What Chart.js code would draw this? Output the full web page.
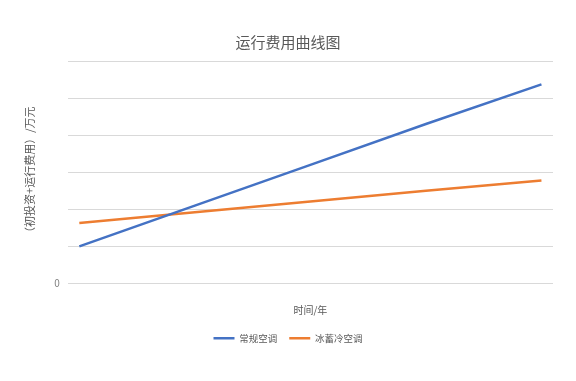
<!DOCTYPE html>
<html>
<head>
<meta charset="utf-8">
<script src="https://cdn.jsdelivr.net/npm/chart.js@4"></script>
<style>
  html, body { margin: 0; padding: 0; background: #fff; }
  #wrap { width: 576px; height: 381px; }
</style>
</head>
<body>
<div id="wrap"><canvas id="costChart" width="576" height="381"></canvas></div>
<script>
// 数据
const years = [0, 5, 10, 15, 20];
const conventional = [1.0, 2.1, 3.2, 4.3, 5.37];
const iceStorage = [1.63, 1.92, 2.21, 2.5, 2.78];
const yTicks = [0, 1, 2, 3, 4, 5, 6];

const textColor = "#595959";
const gridColor = "#d9d9d9";
Chart.defaults.font.family = "'Noto Sans CJK SC', 'Noto Sans', sans-serif";
Chart.defaults.color = textColor;

function toPoints(values) {
  return values.map((v, i) => ({ x: years[i], y: v }));
}

const ctx = document.getElementById("costChart").getContext("2d");
new Chart(ctx, {
  type: "line",
  data: {
    datasets: [
      {
        label: "常规空调",
        data: toPoints(conventional),
        borderColor: "#4472C4",
        backgroundColor: "#4472C4",
        borderWidth: 2.5,
        pointRadius: 0,
        tension: 0,
        fill: false,
      },
      {
        label: "冰蓄冷空调",
        data: toPoints(iceStorage),
        borderColor: "#ED7D31",
        backgroundColor: "#ED7D31",
        borderWidth: 2.5,
        pointRadius: 0,
        tension: 0,
        fill: false,
      },
    ],
  },
  options: {
    responsive: false,
    animation: false,
    layout: { padding: { top: 25, right: 23, bottom: 28, left: 23 } },
    plugins: {
      title: {
        display: true,
        text: "运行费用曲线图",
        font: { size: 15, weight: "normal" },
        color: textColor,
        padding: { top: 8, bottom: 10 },
      },
      legend: {
        position: "bottom",
        labels: {
          usePointStyle: true,
          pointStyle: "line",
          pointStyleWidth: 21,
          boxHeight: 8,
          font: { size: 9.5 },
          color: textColor,
          padding: 12,
        },
      },
      tooltip: { enabled: false },
    },
    scales: {
      x: {
        type: "linear",
        min: -0.5,
        max: 20.5,
        ticks: { display: false },
        grid: { display: false },
        border: { display: false },
        title: {
          display: true,
          text: "时间/年",
          font: { size: 10 },
          color: textColor,
          padding: { top: 13, bottom: 5 },
        },
      },
      y: {
        min: 0,
        max: 6,
        afterBuildTicks: (axis) => {
          axis.ticks = yTicks.map((v) => ({ value: v }));
        },
        ticks: {
          callback: (v) => (v === 0 ? "0" : ""),
          font: { size: 10 },
          color: "#7f7f7f",
          padding: 8,
        },
        grid: { color: gridColor, lineWidth: 1, drawTicks: false },
        border: { display: false },
        title: {
          display: true,
          text: "（初投资+运行费用）/万元",
          font: { size: 11 },
          color: textColor,
          padding: { top: 0, bottom: 10 },
        },
      },
    },
  },
});
</script>
</body>
</html>
